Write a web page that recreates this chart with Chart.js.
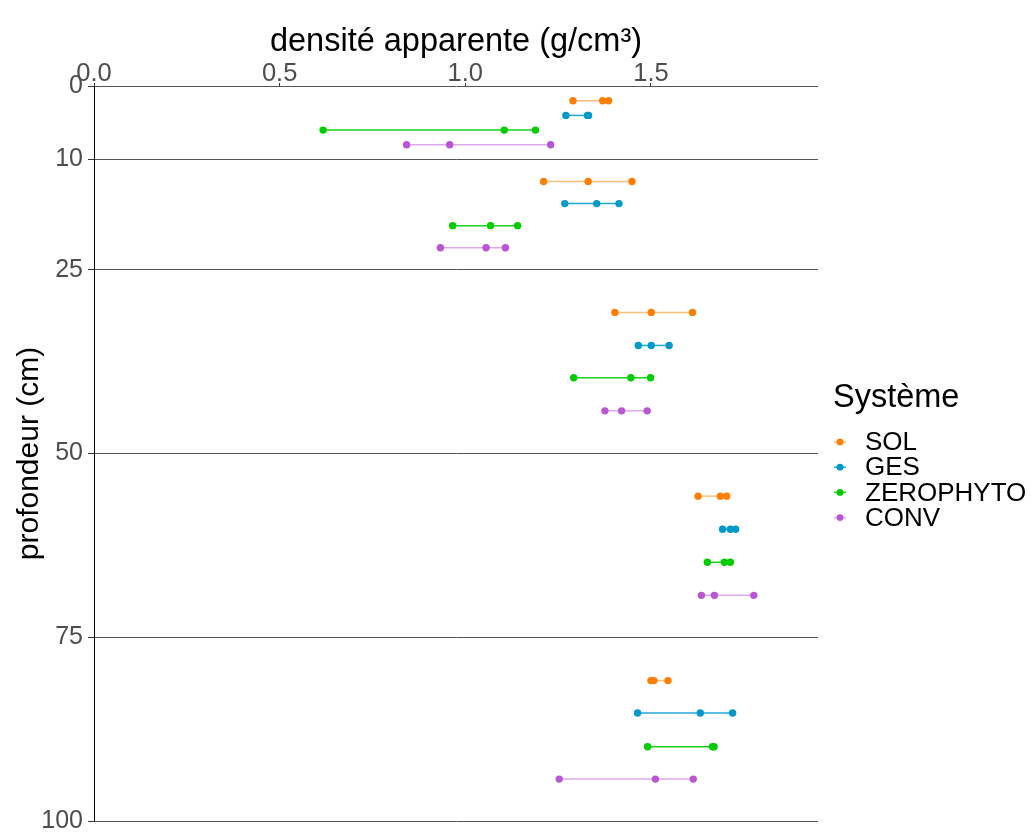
<!DOCTYPE html>
<html>
<head>
<meta charset="utf-8">
<script src="https://cdn.jsdelivr.net/npm/chart.js@4.4.1/dist/chart.umd.min.js"></script>
<style>
  html, body { margin: 0; padding: 0; background: #ffffff; }
  #wrap { position: relative; width: 1032px; height: 834px; }
</style>
</head>
<body>
<div id="wrap"><canvas id="c" width="1032" height="834"></canvas></div>
<script>
// ---- data ----
const systems = ["SOL", "GES", "ZEROPHYTO", "CONV"];
const layers = ["0-10", "10-25", "25-50", "50-75", "75-100"];
const xTicks = [0, 0.5, 1.0, 1.5];
const xTickLabels = ["0.0", "0.5", "1.0", "1.5"];
const yTicks = [0, 10, 25, 50, 75, 100];

// depth (cm) at which each system is drawn within each layer
const depthSOL  = [2, 13, 30.8, 55.8, 80.9];
const depthGES  = [4, 16, 35.3, 60.3, 85.3];
const depthZERO = [6, 19, 39.7, 64.8, 89.9];
const depthCONV = [8, 22, 44.2, 69.3, 94.3];

// bulk density values (three per layer)
const densSOL  = [[1.290, 1.370, 1.386], [1.211, 1.331, 1.449], [1.403, 1.501, 1.612], [1.627, 1.687, 1.704], [1.500, 1.508, 1.546]];
const densGES  = [[1.271, 1.329, 1.332], [1.268, 1.354, 1.414], [1.466, 1.501, 1.549], [1.693, 1.714, 1.728], [1.464, 1.633, 1.720]];
const densZERO = [[0.617, 1.105, 1.189], [0.966, 1.068, 1.141], [1.292, 1.446, 1.499], [1.652, 1.698, 1.714], [1.491, 1.666, 1.670]];
const densCONV = [[0.842, 0.958, 1.230], [0.933, 1.056, 1.108], [1.376, 1.421, 1.490], [1.636, 1.671, 1.777], [1.253, 1.512, 1.614]];

// ---- styles ----
const colors = {
  SOL: "#FF7F00",
  GES: "#0099CC",
  ZEROPHYTO: "#00CC00",
  CONV: "#BA55D3"
};
const lineColors = {
  SOL: "rgba(255,127,0,0.5)",
  GES: "rgba(0,153,204,0.85)",
  ZEROPHYTO: "rgba(0,204,0,0.9)",
  CONV: "rgba(186,85,211,0.5)"
};
const FONT = "'Liberation Sans', Arial, sans-serif";

const seriesData = {
  SOL: [densSOL, depthSOL],
  GES: [densGES, depthGES],
  ZEROPHYTO: [densZERO, depthZERO],
  CONV: [densCONV, depthCONV]
};

const datasets = [];
systems.forEach(function (s) {
  const dens = seriesData[s][0], depth = seriesData[s][1];
  layers.forEach(function (l, i) {
    datasets.push({
      label: s + " " + l,
      data: dens[i].map(function (v) { return { x: v, y: depth[i] }; }),
      showLine: true,
      borderColor: lineColors[s],
      borderWidth: 1.5,
      backgroundColor: colors[s],
      pointBackgroundColor: colors[s],
      pointBorderColor: colors[s],
      pointBorderWidth: 0,
      pointRadius: 3.7,
      pointHoverRadius: 3.7
    });
  });
});

const legendPlugin = {
  id: "customLegend",
  afterDraw: function (chart) {
    const ctx = chart.ctx;
    ctx.save();
    ctx.fillStyle = "#000000";
    ctx.textAlign = "left";
    ctx.textBaseline = "alphabetic";
    ctx.font = "32.5px " + FONT;
    ctx.fillText("Système", 833, 407);
    ctx.font = "26px " + FONT;
    ctx.textBaseline = "middle";
    systems.forEach(function (s, i) {
      const y = 442 + i * 25.2;
      ctx.strokeStyle = lineColors[s];
      ctx.lineWidth = 1.5;
      ctx.beginPath();
      ctx.moveTo(834, y);
      ctx.lineTo(846, y);
      ctx.stroke();
      ctx.fillStyle = colors[s];
      ctx.beginPath();
      ctx.arc(840, y, 3.4, 0, Math.PI * 2);
      ctx.fill();
      ctx.fillStyle = "#000000";
      ctx.fillText(s, 865, y + 1);
    });
    ctx.restore();
  }
};

new Chart(document.getElementById("c"), {
  type: "scatter",
  data: { datasets: datasets },
  plugins: [legendPlugin],
  options: {
    responsive: false,
    devicePixelRatio: 1,
    animation: false,
    layout: { padding: { left: 0, top: 0, right: 214, bottom: 13 } },
    plugins: {
      legend: { display: false },
      tooltip: { enabled: false }
    },
    scales: {
      x: {
        type: "linear",
        position: "top",
        min: 0,
        max: 1.95,
        afterBuildTicks: function (scale) {
          scale.ticks = xTicks.map(function (v) { return { value: v }; });
        },
        afterFit: function (scale) {
          scale.height = 86;
          scale.paddingLeft = 0;
          scale.paddingRight = 0;
        },
        ticks: {
          autoSkip: false,
          maxRotation: 0,
          padding: -4,
          color: "#4D4D4D",
          font: { family: FONT, size: 25.5, lineHeight: 1 },
          callback: function (v) {
            const i = xTicks.indexOf(v);
            return i >= 0 ? xTickLabels[i] : "";
          }
        },
        grid: {
          display: true,
          drawOnChartArea: false,
          drawTicks: true,
          tickLength: 3,
          tickColor: "#333333",
          tickWidth: 1
        },
        border: { display: false },
        title: {
          display: true,
          text: "densité apparente (g/cm³)",
          color: "#000000",
          font: { family: FONT, size: 32.5 },
          padding: { top: 23, bottom: 0 }
        }
      },
      y: {
        type: "linear",
        position: "left",
        reverse: true,
        min: 0,
        max: 100,
        afterBuildTicks: function (scale) {
          scale.ticks = yTicks.map(function (v) { return { value: v }; });
        },
        afterFit: function (scale) {
          scale.width = 94;
          scale.paddingTop = 0;
          scale.paddingBottom = 0;
        },
        ticks: {
          autoSkip: false,
          padding: 5,
          color: "#4D4D4D",
          font: { family: FONT, size: 25, lineHeight: 1 }
        },
        grid: {
          display: true,
          drawOnChartArea: true,
          drawTicks: true,
          tickLength: 6,
          color: "#555555",
          lineWidth: 1,
          tickColor: "#333333"
        },
        border: { display: true, color: "#000000", width: 1 },
        title: {
          display: true,
          text: "profondeur (cm)",
          color: "#000000",
          font: { family: FONT, size: 30 },
          padding: { top: 12, bottom: 0 }
        }
      }
    }
  }
});
</script>
</body>
</html>
